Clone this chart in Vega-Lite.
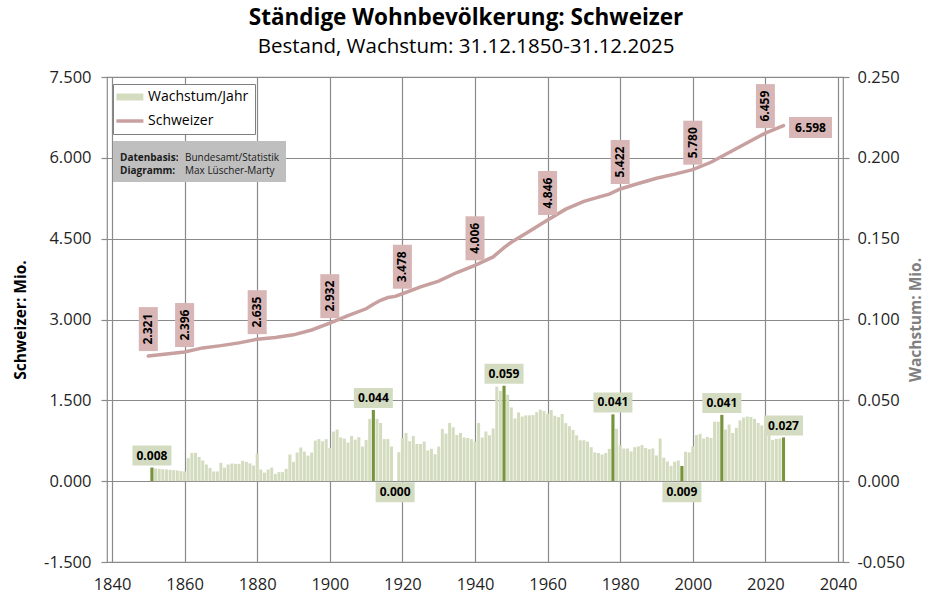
{
  "$schema": "https://vega.github.io/schema/vega-lite/v6.json",
  "width": 736,
  "height": 485,
  "autosize": {"type": "none"},
  "padding": {"left": 107, "top": 77, "right": 88, "bottom": 37},
  "background": "white",
  "title": {
    "text": "Ständige Wohnbevölkerung: Schweizer",
    "subtitle": "Bestand, Wachstum: 31.12.1850-31.12.2025",
    "font": "Open Sans",
    "fontSize": 22.5,
    "fontWeight": "bold",
    "color": "black",
    "subtitleFont": "Open Sans",
    "subtitleFontSize": 20.5,
    "subtitleColor": "black",
    "subtitlePadding": 7,
    "anchor": "middle",
    "dx": -9,
    "offset": 12
  },
  "datasets": {
    "growth": [
      {"year":1851,"value":0.0084},{"year":1852,"value":0.0078},{"year":1853,"value":0.0076},{"year":1854,"value":0.0074},{"year":1855,"value":0.0072},
      {"year":1856,"value":0.0070},{"year":1857,"value":0.0068},{"year":1858,"value":0.0066},{"year":1859,"value":0.0062},{"year":1860,"value":0.0060},
      {"year":1861,"value":0.0142},{"year":1862,"value":0.0175},{"year":1863,"value":0.0175},{"year":1864,"value":0.0150},{"year":1865,"value":0.0128},
      {"year":1866,"value":0.0103},{"year":1867,"value":0.0082},{"year":1868,"value":0.0060},{"year":1869,"value":0.0060},{"year":1870,"value":0.0113},
      {"year":1871,"value":0.0084},{"year":1872,"value":0.0103},{"year":1873,"value":0.0109},{"year":1874,"value":0.0107},{"year":1875,"value":0.0107},
      {"year":1876,"value":0.0126},{"year":1877,"value":0.0120},{"year":1878,"value":0.0110},{"year":1879,"value":0.0097},{"year":1880,"value":0.0170},
      {"year":1881,"value":0.0072},{"year":1882,"value":0.0053},{"year":1883,"value":0.0072},{"year":1884,"value":0.0084},{"year":1885,"value":0.0045},
      {"year":1886,"value":0.0056},{"year":1887,"value":0.0056},{"year":1888,"value":0.0076},{"year":1889,"value":0.0165},{"year":1890,"value":0.0120},
      {"year":1891,"value":0.0177},{"year":1892,"value":0.0208},{"year":1893,"value":0.0183},{"year":1894,"value":0.0158},{"year":1895,"value":0.0177},
      {"year":1896,"value":0.0251},{"year":1897,"value":0.0260},{"year":1898,"value":0.0247},{"year":1899,"value":0.0260},{"year":1900,"value":0.0206},
      {"year":1901,"value":0.0307},{"year":1902,"value":0.0319},{"year":1903,"value":0.0270},{"year":1904,"value":0.0263},{"year":1905,"value":0.0239},
      {"year":1906,"value":0.0280},{"year":1907,"value":0.0257},{"year":1908,"value":0.0272},{"year":1909,"value":0.0214},{"year":1910,"value":0.0255},
      {"year":1911,"value":0.0385},{"year":1912,"value":0.0440},{"year":1913,"value":0.0385},{"year":1914,"value":0.0360},{"year":1915,"value":0.0260},
      {"year":1916,"value":0.0260},{"year":1917,"value":0.0214},{"year":1918,"value":0.0000},{"year":1919,"value":0.0179},{"year":1920,"value":0.0267},
      {"year":1921,"value":0.0298},{"year":1922,"value":0.0247},{"year":1923,"value":0.0280},{"year":1924,"value":0.0230},{"year":1925,"value":0.0230},
      {"year":1926,"value":0.0245},{"year":1927,"value":0.0190},{"year":1928,"value":0.0200},{"year":1929,"value":0.0167},{"year":1930,"value":0.0214},
      {"year":1931,"value":0.0323},{"year":1932,"value":0.0294},{"year":1933,"value":0.0360},{"year":1934,"value":0.0333},{"year":1935,"value":0.0286},
      {"year":1936,"value":0.0298},{"year":1937,"value":0.0270},{"year":1938,"value":0.0267},{"year":1939,"value":0.0260},{"year":1940,"value":0.0245},
      {"year":1941,"value":0.0360},{"year":1942,"value":0.0270},{"year":1943,"value":0.0307},{"year":1944,"value":0.0284},{"year":1945,"value":0.0326},
      {"year":1946,"value":0.0585},{"year":1947,"value":0.0558},{"year":1948,"value":0.0590},{"year":1949,"value":0.0535},{"year":1950,"value":0.0456},
      {"year":1951,"value":0.0388},{"year":1952,"value":0.0425},{"year":1953,"value":0.0400},{"year":1954,"value":0.0407},{"year":1955,"value":0.0407},
      {"year":1956,"value":0.0409},{"year":1957,"value":0.0427},{"year":1958,"value":0.0442},{"year":1959,"value":0.0434},{"year":1960,"value":0.0417},
      {"year":1961,"value":0.0440},{"year":1962,"value":0.0405},{"year":1963,"value":0.0396},{"year":1964,"value":0.0415},{"year":1965,"value":0.0359},
      {"year":1966,"value":0.0340},{"year":1967,"value":0.0317},{"year":1968,"value":0.0284},{"year":1969,"value":0.0253},{"year":1970,"value":0.0253},
      {"year":1971,"value":0.0244},{"year":1972,"value":0.0210},{"year":1973,"value":0.0178},{"year":1974,"value":0.0174},{"year":1975,"value":0.0165},
      {"year":1976,"value":0.0174},{"year":1977,"value":0.0200},{"year":1978,"value":0.0413},{"year":1979,"value":0.0324},{"year":1980,"value":0.0223},
      {"year":1981,"value":0.0202},{"year":1982,"value":0.0202},{"year":1983,"value":0.0184},{"year":1984,"value":0.0210},{"year":1985,"value":0.0215},
      {"year":1986,"value":0.0223},{"year":1987,"value":0.0205},{"year":1988,"value":0.0198},{"year":1989,"value":0.0202},{"year":1990,"value":0.0159},
      {"year":1991,"value":0.0264},{"year":1992,"value":0.0145},{"year":1993,"value":0.0122},{"year":1994,"value":0.0095},{"year":1995,"value":0.0120},
      {"year":1996,"value":0.0128},{"year":1997,"value":0.0094},{"year":1998,"value":0.0182},{"year":1999,"value":0.0178},{"year":2000,"value":0.0215},
      {"year":2001,"value":0.0285},{"year":2002,"value":0.0293},{"year":2003,"value":0.0264},{"year":2004,"value":0.0273},{"year":2005,"value":0.0267},
      {"year":2006,"value":0.0368},{"year":2007,"value":0.0368},{"year":2008,"value":0.0410},{"year":2009,"value":0.0320},{"year":2010,"value":0.0350},
      {"year":2011,"value":0.0298},{"year":2012,"value":0.0330},{"year":2013,"value":0.0376},{"year":2014,"value":0.0393},{"year":2015,"value":0.0400},
      {"year":2016,"value":0.0397},{"year":2017,"value":0.0386},{"year":2018,"value":0.0360},{"year":2019,"value":0.0345},{"year":2020,"value":0.0310},
      {"year":2021,"value":0.0290},{"year":2022,"value":0.0255},{"year":2023,"value":0.0262},{"year":2024,"value":0.0264},{"year":2025,"value":0.0270}
    ],
    "pop": [
      {"year":1850,"pop":2.321},{"year":1855,"pop":2.359},{"year":1860,"pop":2.396},{"year":1865,"pop":2.473},{"year":1870,"pop":2.515},
      {"year":1875,"pop":2.566},{"year":1880,"pop":2.635},{"year":1885,"pop":2.668},{"year":1890,"pop":2.715},{"year":1895,"pop":2.805},
      {"year":1900,"pop":2.932},{"year":1905,"pop":3.072},{"year":1910,"pop":3.199},{"year":1912,"pop":3.282},{"year":1914,"pop":3.356},
      {"year":1916,"pop":3.408},{"year":1918,"pop":3.429},{"year":1920,"pop":3.478},{"year":1925,"pop":3.607},{"year":1930,"pop":3.711},
      {"year":1935,"pop":3.872},{"year":1940,"pop":4.006},{"year":1945,"pop":4.161},{"year":1948,"pop":4.334},{"year":1950,"pop":4.433},
      {"year":1955,"pop":4.636},{"year":1960,"pop":4.846},{"year":1965,"pop":5.048},{"year":1970,"pop":5.192},{"year":1975,"pop":5.289},
      {"year":1977,"pop":5.327},{"year":1980,"pop":5.422},{"year":1985,"pop":5.523},{"year":1990,"pop":5.622},{"year":1995,"pop":5.697},
      {"year":2000,"pop":5.780},{"year":2005,"pop":5.918},{"year":2010,"pop":6.100},{"year":2015,"pop":6.280},{"year":2020,"pop":6.459},
      {"year":2025,"pop":6.598}
    ],
    "credits": [
      {"k":"Datenbasis:","v":"Bundesamt/Statistik"},
      {"k":"Diagramm:","v":"Max Lüscher-Marty"}
    ]
  },
  "layer": [
    {
      "data": {"name": "growth"},
      "encoding": {
        "x": {
          "field": "year", "type": "quantitative",
          "scale": {"domain": [1840, 2040], "nice": false, "zero": false},
          "axis": {"values": [1840,1860,1880,1900,1920,1940,1960,1980,2000,2020,2040], "format": "d", "title": null, "grid": true, "ticks": false, "domain": false, "labelPadding": 14, "labelFontSize": 16.5, "labelColor": "#1f1f1f", "labelFont": "Open Sans", "gridColor": "#8a8a8a", "gridWidth": 1.2, "labelFlush": false}
        },
        "y": {
          "field": "value", "type": "quantitative",
          "scale": {"domain": [-0.05, 0.25], "nice": false, "zero": false},
          "axis": {"orient": "right", "values": [-0.05,0,0.05,0.1,0.15,0.2,0.25], "labelExpr": "replace(format(datum.value,'.3f'),'−','-')", "title": "Wachstum: Mio.", "titleAngle": 270, "titleColor": "#808080", "titleFontSize": 15.5, "titleFontWeight": "bold", "titleFont": "Open Sans", "titlePadding": 19, "grid": false, "domain": false, "ticks": true, "tickSize": 6, "tickColor": "#8a8a8a", "tickWidth": 1.2, "labelPadding": 8, "labelFontSize": 16.5, "labelColor": "#1f1f1f", "labelFont": "Open Sans", "labelFlush": false}
        }
      },
      "layer": [
        {
          "mark": {"type": "bar", "width": 3},
          "encoding": {
            "color": {
              "datum": "Wachstum/Jahr",
              "scale": {"domain": ["Wachstum/Jahr", "Schweizer"], "range": ["#d3dcbf", "#c8a0a0"]},
              "legend": {
                "orient": "none", "legendX": 6, "legendY": 7, "title": null,
                "fillColor": "white", "strokeColor": "#808080", "padding": 6,
                "labelFont": "Open Sans", "labelFontSize": 14, "labelColor": "black",
                "symbolSize": 576, "labelOffset": 15, "rowPadding": 10,
                "encode": {
                  "symbols": {
                    "update": {
                      "shape": {"signal": "datum.value === 'Schweizer' ? 'M-0.8,0L1.45,0' : 'M-0.8,-0.29L1.45,-0.29L1.45,0.29L-0.8,0.29Z'"},
                      "fill": {"signal": "datum.value === 'Schweizer' ? 'transparent' : '#d3dcbf'"},
                      "stroke": {"signal": "datum.value === 'Schweizer' ? '#c8a0a0' : 'transparent'"},
                      "strokeWidth": {"signal": "datum.value === 'Schweizer' ? 3.5 : 0"},
                      "opacity": {"value": 1}
                    }
                  }
                }
              }
            }
          }
        },
        {
          "transform": [{"filter": {"field": "year", "oneOf": [1851, 1912, 1948, 1978, 1997, 2008, 2025]}}],
          "mark": {"type": "bar", "width": 3, "color": "#77933c"}
        },
        {
          "transform": [{"filter": {"field": "year", "oneOf": [1851, 1912, 1948, 1978, 2008, 2025]}}],
          "mark": {"type": "point", "shape": "M-1,-0.513L1,-0.513L1,0.513L-1,0.513Z", "size": 1521, "filled": true, "opacity": 1, "color": "#d3dcc0", "strokeWidth": 0, "yOffset": -12}
        },
        {
          "transform": [{"filter": {"field": "year", "oneOf": [1851, 1912, 1948, 1978, 2008, 2025]}}],
          "mark": {"type": "text", "font": "Open Sans", "fontWeight": "bold", "fontSize": 12, "color": "black", "baseline": "middle", "align": "center", "yOffset": -12},
          "encoding": {"text": {"field": "value", "type": "quantitative", "format": ".3f"}}
        },
        {
          "transform": [{"filter": {"field": "year", "oneOf": [1918, 1997]}}],
          "mark": {"type": "point", "shape": "M-1,-0.513L1,-0.513L1,0.513L-1,0.513Z", "size": 1521, "filled": true, "opacity": 1, "color": "#d3dcc0", "strokeWidth": 0, "yOffset": 11},
          "encoding": {"y": {"datum": 0, "type": "quantitative"}}
        },
        {
          "transform": [{"filter": {"field": "year", "oneOf": [1918, 1997]}}],
          "mark": {"type": "text", "font": "Open Sans", "fontWeight": "bold", "fontSize": 12, "color": "black", "baseline": "middle", "align": "center", "yOffset": 11},
          "encoding": {"y": {"datum": 0, "type": "quantitative"}, "text": {"field": "value", "type": "quantitative", "format": ".3f"}}
        }
      ]
    },
    {
      "data": {"name": "pop"},
      "encoding": {
        "x": {
          "field": "year", "type": "quantitative",
          "scale": {"domain": [1840, 2040], "nice": false, "zero": false},
          "axis": {"values": [1840,1860,1880,1900,1920,1940,1960,1980,2000,2020,2040], "format": "d", "title": null, "grid": true, "ticks": false, "domain": false, "labelPadding": 14, "labelFontSize": 16.5, "labelColor": "#1f1f1f", "labelFont": "Open Sans", "gridColor": "#8a8a8a", "gridWidth": 1.2, "labelFlush": false}
        },
        "y": {
          "field": "pop", "type": "quantitative",
          "scale": {"domain": [-1.5, 7.5], "nice": false, "zero": false},
          "axis": {"orient": "left", "values": [-1.5,0,1.5,3,4.5,6,7.5], "labelExpr": "replace(format(datum.value,'.3f'),'−','-')", "title": "Schweizer: Mio.", "titleColor": "black", "titleFontSize": 15.5, "titleFontWeight": "bold", "titleFont": "Open Sans", "titlePadding": 15, "grid": true, "gridColor": "#8a8a8a", "gridWidth": 1.2, "domain": false, "ticks": true, "tickSize": 6, "tickColor": "#8a8a8a", "tickWidth": 1.2, "labelPadding": 10, "labelFontSize": 16.5, "labelColor": "#1f1f1f", "labelFont": "Open Sans", "labelFlush": false}
        }
      },
      "layer": [
        {
          "mark": {"type": "line", "strokeWidth": 3.5, "strokeCap": "round"},
          "encoding": {"color": {"datum": "Schweizer"}}
        },
        {
          "transform": [{"filter": {"field": "year", "oneOf": [1850, 1860, 1880, 1900, 1920, 1940, 1960, 1980, 2000, 2020]}}],
          "mark": {"type": "point", "shape": "M-0.432,-1L0.432,-1L0.432,1L-0.432,1Z", "size": 1936, "filled": true, "opacity": 1, "color": "#d9b6b6", "strokeWidth": 0, "yOffset": -27}
        },
        {
          "transform": [{"filter": {"field": "year", "oneOf": [1850, 1860, 1880, 1900, 1920, 1940, 1960, 1980, 2000, 2020]}}],
          "mark": {"type": "text", "font": "Open Sans", "fontWeight": "bold", "fontSize": 12, "color": "black", "baseline": "middle", "align": "center", "angle": 270, "yOffset": -27},
          "encoding": {"text": {"field": "pop", "type": "quantitative", "format": ".3f"}}
        },
        {
          "transform": [{"filter": {"field": "year", "oneOf": [2025]}}],
          "mark": {"type": "point", "shape": "M-1,-0.488L1,-0.488L1,0.488L-1,0.488Z", "size": 1849, "filled": true, "opacity": 1, "color": "#d9b6b6", "strokeWidth": 0, "xOffset": 27, "yOffset": 2}
        },
        {
          "transform": [{"filter": {"field": "year", "oneOf": [2025]}}],
          "mark": {"type": "text", "font": "Open Sans", "fontWeight": "bold", "fontSize": 12, "color": "black", "baseline": "middle", "align": "center", "xOffset": 27, "yOffset": 2},
          "encoding": {"text": {"field": "pop", "type": "quantitative", "format": ".3f"}}
        }
      ]
    },
    {
      "data": {"name": "credits"},
      "mark": {"type": "point", "opacity": 0},
      "encoding": {
        "shape": {
          "field": "k", "type": "nominal",
          "legend": {"orient": "none", "legendX": 6, "legendY": 64, "title": " ", "titleFontSize": 1, "titlePadding": 5, "fillColor": "#bfbfbf", "padding": 6, "labelFont": "Open Sans", "labelFontSize": 10, "labelFontWeight": "bold", "labelColor": "#1a1a1a", "symbolSize": 1, "symbolOpacity": 0, "symbolType": "circle", "labelOffset": -9, "rowPadding": 3, "labelLimit": 300}
        },
        "strokeDash": {
          "field": "v", "type": "nominal",
          "legend": {"orient": "none", "legendX": 71, "legendY": 64, "title": " ", "titleFontSize": 1, "titlePadding": 5, "fillColor": "#bfbfbf", "padding": 6, "labelFont": "Open Sans", "labelFontSize": 10, "labelColor": "#1a1a1a", "symbolSize": 1, "symbolOpacity": 0, "symbolType": "circle", "labelOffset": -9, "rowPadding": 3, "labelLimit": 300}
        }
      }
    }
  ],
  "resolve": {"scale": {"y": "independent"}},
  "config": {
    "view": {"stroke": "#8a8a8a", "strokeWidth": 1.2},
    "font": "Open Sans"
  }
}
